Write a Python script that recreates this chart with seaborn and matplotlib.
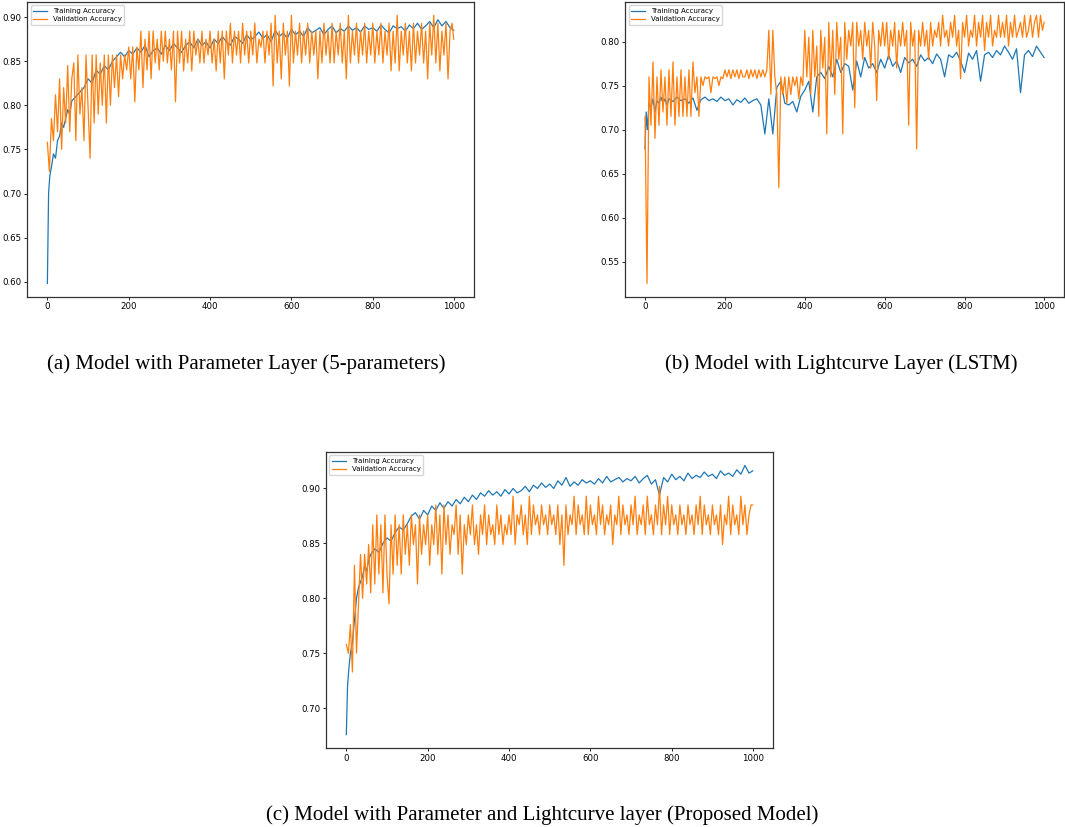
import numpy as np
import pandas as pd
import seaborn as sns
import matplotlib
matplotlib.use("Agg")
import matplotlib.pyplot as plt

# epochs (sampled): training every 10 epochs (denser at start), validation every 5
train_epochs = [0, 3, 6, 10, 15, 20, 25, 30, 35, 40, 45, 50, 55, 60] + list(range(70, 1000, 10)) + [999]
val_epochs = list(range(0, 1000, 5)) + [999]

# (a) parameter layer
a_train = [0.598, 0.70, 0.72, 0.73, 0.745, 0.74, 0.76, 0.765, 0.78, 0.775, 0.785, 0.795, 0.79, 0.805,
           0.81, 0.815, 0.82, 0.83, 0.825, 0.84, 0.835, 0.845, 0.84, 0.85,
           0.855, 0.86, 0.855, 0.862, 0.858, 0.865, 0.86, 0.868, 0.855, 0.862,
           0.865, 0.858, 0.868, 0.862, 0.87, 0.865, 0.86, 0.868, 0.872, 0.865,
           0.875, 0.868, 0.872, 0.865, 0.875, 0.87, 0.878, 0.872, 0.868, 0.878,
           0.875, 0.87, 0.88, 0.874, 0.878, 0.883, 0.876, 0.88, 0.872, 0.885,
           0.878, 0.882, 0.876, 0.886, 0.88, 0.884, 0.878, 0.888, 0.882, 0.885,
           0.888, 0.88, 0.886, 0.89, 0.882, 0.887, 0.884, 0.89, 0.885, 0.888,
           0.883, 0.89, 0.886, 0.888, 0.884, 0.891, 0.886, 0.882, 0.89, 0.887,
           0.889, 0.884, 0.891, 0.887, 0.893, 0.886, 0.89, 0.895, 0.888, 0.897,
           0.89, 0.895, 0.888, 0.885]
a_val = [0.758, 0.725, 0.785, 0.76, 0.812, 0.77, 0.83, 0.75, 0.82, 0.78, 0.845, 0.77, 0.83, 0.848, 0.76, 0.857, 0.79, 0.82, 0.76, 0.857,
         0.80, 0.74, 0.857, 0.78, 0.857, 0.79, 0.848, 0.80, 0.857, 0.78, 0.857, 0.80, 0.857, 0.82, 0.857, 0.81, 0.857, 0.83, 0.857, 0.84,
         0.866, 0.83, 0.866, 0.804, 0.866, 0.84, 0.884, 0.82, 0.875, 0.84, 0.884, 0.83, 0.884, 0.848, 0.875, 0.84, 0.884, 0.85, 0.884, 0.848,
         0.875, 0.84, 0.884, 0.804, 0.884, 0.848, 0.884, 0.839, 0.875, 0.848, 0.884, 0.839, 0.884, 0.857, 0.875, 0.848, 0.884, 0.848, 0.875, 0.857,
         0.884, 0.848, 0.875, 0.839, 0.884, 0.848, 0.884, 0.83, 0.884, 0.857, 0.893, 0.848, 0.884, 0.857, 0.884, 0.848, 0.893, 0.857, 0.884, 0.848,
         0.884, 0.857, 0.893, 0.848, 0.875, 0.866, 0.884, 0.848, 0.884, 0.857, 0.893, 0.822, 0.902, 0.848, 0.884, 0.83, 0.893, 0.857, 0.884, 0.822,
         0.902, 0.848, 0.884, 0.857, 0.893, 0.848, 0.884, 0.857, 0.893, 0.848, 0.884, 0.857, 0.884, 0.83, 0.884, 0.848, 0.893, 0.857, 0.884, 0.848,
         0.893, 0.848, 0.884, 0.857, 0.893, 0.848, 0.884, 0.83, 0.902, 0.848, 0.884, 0.857, 0.893, 0.848, 0.884, 0.857, 0.893, 0.848, 0.884, 0.857,
         0.893, 0.848, 0.884, 0.857, 0.893, 0.848, 0.884, 0.857, 0.893, 0.839, 0.884, 0.848, 0.902, 0.839, 0.884, 0.857, 0.893, 0.848, 0.884, 0.839,
         0.893, 0.848, 0.884, 0.857, 0.893, 0.848, 0.884, 0.83, 0.893, 0.857, 0.902, 0.848, 0.893, 0.839, 0.884, 0.857, 0.893, 0.83, 0.884, 0.893,
         0.875]

# (b) lightcurve layer (LSTM)
b_train = [0.678, 0.72, 0.70, 0.73, 0.725, 0.735, 0.72, 0.733, 0.73, 0.737, 0.73, 0.735, 0.728, 0.735,
           0.732, 0.737, 0.733, 0.735, 0.73, 0.736, 0.722, 0.734, 0.737, 0.733,
           0.735, 0.732, 0.737, 0.733, 0.735, 0.728, 0.734, 0.731, 0.736, 0.73,
           0.733, 0.735, 0.728, 0.695, 0.735, 0.695, 0.748, 0.755, 0.73, 0.728,
           0.732, 0.72, 0.738, 0.745, 0.755, 0.72, 0.76, 0.765, 0.758, 0.772,
           0.76, 0.78, 0.765, 0.775, 0.772, 0.745, 0.778, 0.76, 0.782, 0.77,
           0.775, 0.765, 0.78, 0.77, 0.785, 0.772, 0.778, 0.765, 0.782, 0.776,
           0.78, 0.772, 0.785, 0.778, 0.782, 0.775, 0.786, 0.78, 0.76, 0.785,
           0.782, 0.788, 0.778, 0.765, 0.787, 0.78, 0.79, 0.755, 0.785, 0.788,
           0.782, 0.79, 0.785, 0.795, 0.788, 0.78, 0.792, 0.742, 0.785, 0.79,
           0.783, 0.795, 0.788, 0.782]
b_val = [0.715, 0.525, 0.76, 0.705, 0.777, 0.69, 0.76, 0.705, 0.768, 0.72, 0.76, 0.705, 0.768, 0.715, 0.777, 0.705, 0.76, 0.715, 0.768, 0.715,
         0.76, 0.715, 0.768, 0.715, 0.777, 0.742, 0.76, 0.715, 0.76, 0.75, 0.76, 0.758, 0.76, 0.742, 0.76, 0.758, 0.76, 0.75, 0.76, 0.758,
         0.768, 0.76, 0.768, 0.758, 0.768, 0.76, 0.768, 0.758, 0.768, 0.76, 0.76, 0.768, 0.758, 0.768, 0.76, 0.768, 0.758, 0.768, 0.76, 0.768,
         0.76, 0.768, 0.813, 0.74, 0.813, 0.76, 0.74, 0.634, 0.76, 0.74, 0.76, 0.73, 0.76, 0.74, 0.76, 0.75, 0.76, 0.735, 0.76, 0.75,
         0.813, 0.76, 0.805, 0.74, 0.813, 0.76, 0.795, 0.715, 0.813, 0.77, 0.805, 0.695, 0.822, 0.76, 0.813, 0.74, 0.822, 0.78, 0.805, 0.695,
         0.822, 0.78, 0.813, 0.795, 0.822, 0.725, 0.822, 0.795, 0.813, 0.78, 0.822, 0.795, 0.813, 0.77, 0.822, 0.795, 0.733, 0.813, 0.795, 0.822,
         0.795, 0.822, 0.78, 0.813, 0.795, 0.822, 0.77, 0.813, 0.795, 0.822, 0.795, 0.813, 0.705, 0.822, 0.795, 0.813, 0.678, 0.813, 0.795, 0.822,
         0.795, 0.813, 0.78, 0.822, 0.795, 0.813, 0.805, 0.822, 0.795, 0.83, 0.805, 0.813, 0.795, 0.822, 0.805, 0.83, 0.795, 0.813, 0.758, 0.822,
         0.805, 0.83, 0.795, 0.813, 0.805, 0.83, 0.795, 0.822, 0.805, 0.83, 0.79, 0.822, 0.805, 0.83, 0.795, 0.813, 0.805, 0.83, 0.805, 0.822,
         0.805, 0.83, 0.795, 0.822, 0.805, 0.83, 0.805, 0.813, 0.822, 0.805, 0.83, 0.805, 0.813, 0.83, 0.805, 0.822, 0.83, 0.805, 0.83, 0.813,
         0.822]

# (c) parameter + lightcurve (proposed)
c_train = [0.676, 0.72, 0.735, 0.75, 0.76, 0.78, 0.80, 0.81, 0.815, 0.82, 0.83, 0.825, 0.835, 0.84,
           0.845, 0.842, 0.85, 0.855, 0.852, 0.86, 0.865, 0.862, 0.868, 0.875,
           0.878, 0.872, 0.88, 0.876, 0.884, 0.88, 0.887, 0.882, 0.888, 0.884,
           0.89, 0.886, 0.892, 0.888, 0.894, 0.89, 0.896, 0.893, 0.898, 0.894,
           0.897, 0.893, 0.899, 0.895, 0.9, 0.896, 0.898, 0.902, 0.897, 0.903,
           0.9, 0.905, 0.901, 0.904, 0.9, 0.907, 0.903, 0.91, 0.902, 0.906,
           0.903, 0.908, 0.905, 0.907, 0.904, 0.909, 0.905, 0.911, 0.906, 0.908,
           0.91, 0.906, 0.909, 0.907, 0.911, 0.905, 0.909, 0.912, 0.904, 0.908,
           0.894, 0.91, 0.906, 0.913, 0.908, 0.911, 0.907, 0.914, 0.909, 0.912,
           0.91, 0.915, 0.911, 0.913, 0.909, 0.916, 0.912, 0.914, 0.911, 0.917,
           0.913, 0.921, 0.914, 0.916]
c_val = [0.758, 0.75, 0.776, 0.733, 0.83, 0.75, 0.795, 0.84, 0.80, 0.84, 0.813, 0.849, 0.805, 0.867, 0.813, 0.876, 0.822, 0.867, 0.805, 0.876,
         0.822, 0.795, 0.867, 0.822, 0.876, 0.83, 0.867, 0.822, 0.876, 0.84, 0.867, 0.83, 0.876, 0.849, 0.867, 0.813, 0.876, 0.84, 0.867, 0.849,
         0.876, 0.83, 0.867, 0.849, 0.885, 0.84, 0.876, 0.822, 0.885, 0.849, 0.876, 0.84, 0.867, 0.858, 0.885, 0.84, 0.876, 0.822, 0.867, 0.849,
         0.876, 0.858, 0.885, 0.849, 0.867, 0.84, 0.876, 0.858, 0.885, 0.849, 0.876, 0.858, 0.867, 0.849, 0.885, 0.858, 0.876, 0.849, 0.867, 0.858,
         0.876, 0.858, 0.893, 0.849, 0.876, 0.867, 0.885, 0.858, 0.876, 0.849, 0.893, 0.858, 0.885, 0.867, 0.876, 0.858, 0.885, 0.867, 0.876, 0.858,
         0.885, 0.867, 0.876, 0.858, 0.885, 0.849, 0.876, 0.83, 0.885, 0.858, 0.876, 0.867, 0.893, 0.858, 0.885, 0.867, 0.876, 0.858, 0.893, 0.858,
         0.885, 0.867, 0.876, 0.858, 0.893, 0.867, 0.885, 0.858, 0.876, 0.867, 0.885, 0.849, 0.876, 0.867, 0.893, 0.858, 0.885, 0.867, 0.876, 0.858,
         0.885, 0.867, 0.893, 0.858, 0.876, 0.867, 0.885, 0.858, 0.893, 0.867, 0.876, 0.858, 0.885, 0.867, 0.902, 0.858, 0.885, 0.867, 0.893, 0.858,
         0.885, 0.867, 0.876, 0.858, 0.885, 0.867, 0.876, 0.858, 0.885, 0.867, 0.876, 0.858, 0.885, 0.867, 0.893, 0.858, 0.885, 0.867, 0.876, 0.858,
         0.885, 0.867, 0.876, 0.858, 0.885, 0.849, 0.876, 0.867, 0.893, 0.858, 0.885, 0.867, 0.876, 0.858, 0.893, 0.867, 0.885, 0.858, 0.876, 0.885,
         0.885]

captions = ["(a) Model with Parameter Layer (5-parameters)",
            "(b) Model with Lightcurve Layer (LSTM)",
            "(c) Model with Parameter and Lightcurve layer (Proposed Model)"]

fig = plt.figure(figsize=(10.65, 8.27), dpi=100)

# axes boxes in figure fractions
boxes = [[0.0254, 0.641, 0.4197, 0.3567],
         [0.5869, 0.641, 0.4122, 0.3567],
         [0.3061, 0.0955, 0.4197, 0.358]]
series = [(a_train, a_val), (b_train, b_val), (c_train, c_val)]

for box, (tr, va) in zip(boxes, series):
    ax = fig.add_axes(box)
    sns.lineplot(x=train_epochs, y=tr, ax=ax, color="#1f77b4", linewidth=0.9,
                 label="Training Accuracy", estimator=None)
    sns.lineplot(x=val_epochs, y=va, ax=ax, color="#ff7f0e", linewidth=0.9,
                 label="Validation Accuracy", estimator=None)
    ax.set_xticks([0, 200, 400, 600, 800, 1000])
    ax.yaxis.set_major_formatter(matplotlib.ticker.FormatStrFormatter("%.2f"))
    ax.tick_params(labelsize=6.2, length=2, width=0.6, pad=2)
    for s in ax.spines.values():
        s.set_linewidth(0.9)
        s.set_color("#333333")
    ax.legend(loc="upper left", fontsize=5.0, handlelength=2.0,
              borderpad=0.4, labelspacing=0.3, frameon=True)

cap_pos = [(246, 364), (841, 364), (542, 815)]
for (px, py), txt in zip(cap_pos, captions):
    fig.text(px / 1065, 1 - py / 827, txt, ha="center", va="center",
             family="Liberation Serif", fontsize=15)

fig.savefig("out.png", dpi=100)
